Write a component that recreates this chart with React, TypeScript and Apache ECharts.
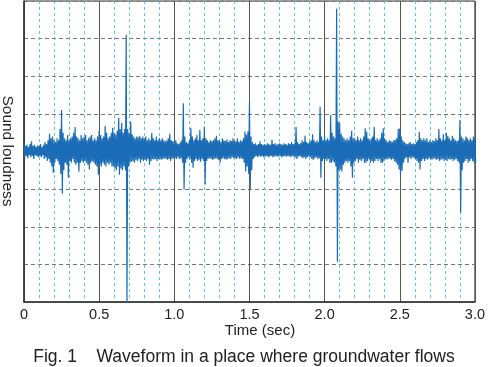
import React, { useEffect, useRef } from "react";
import * as echarts from "echarts";

// Time step of the envelope readings (seconds)
const STEP = 0.01;

// Upper peaks of the waveform, one per 0.01 s from 0.00 to 3.00
const upper: number[] = [
  0.2, 0.15, 0.18, 0.12, 0.2, 0.27, 0.15, 0.18, 0.12, 0.16,
  0.15, 0.2, 0.12, 0.18, 0.25, 0.2, 0.3, 0.47, 0.35, 0.4,
  0.3, 0.25, 0.35, 0.3, 0.6, 1.1, 0.5, 0.35, 0.3, 0.44,
  0.3, 0.35, 0.4, 0.5, 0.65, 0.4, 0.35, 0.3, 0.44, 0.35,
  0.4, 0.44, 0.3, 0.35, 0.4, 0.44, 0.3, 0.35, 0.3, 0.4,
  0.55, 0.44, 0.35, 0.4, 0.68, 0.5, 0.35, 0.4, 0.5, 0.63,
  0.5, 0.45, 0.55, 0.9, 0.6, 0.76, 0.5, 0.6, 3.1, 0.6,
  0.5, 0.8, 0.45, 0.4, 0.35, 0.4, 0.38, 0.42, 0.35, 0.4,
  0.35, 0.4, 0.3, 0.35, 0.3, 0.5, 0.35, 0.3, 0.4, 0.3,
  0.36, 0.3, 0.35, 0.3, 0.27, 0.3, 0.35, 0.47, 0.3, 0.28,
  0.25, 0.3, 0.22, 0.2, 0.25, 0.3, 1.28, 0.4, 0.25, 0.22,
  0.3, 0.63, 0.4, 0.3, 0.35, 0.44, 0.3, 0.57, 0.3, 0.35,
  0.66, 0.35, 0.3, 0.25, 0.3, 0.28, 0.3, 0.35, 0.42, 0.3,
  0.3, 0.25, 0.35, 0.3, 0.28, 0.32, 0.25, 0.3, 0.28, 0.35,
  0.3, 0.27, 0.35, 0.25, 0.3, 0.28, 0.35, 0.53, 0.45, 0.53,
  1.3, 0.4, 0.25, 0.2, 0.22, 0.18, 0.2, 0.27, 0.2, 0.18,
  0.2, 0.18, 0.22, 0.2, 0.18, 0.31, 0.2, 0.22, 0.18, 0.2,
  0.22, 0.2, 0.18, 0.22, 0.2, 0.18, 0.22, 0.2, 0.25, 0.2,
  0.22, 0.65, 0.25, 0.2, 0.22, 0.3, 0.25, 0.42, 0.25, 0.22,
  0.25, 0.3, 0.46, 0.3, 0.25, 0.3, 0.25, 1.19, 0.4, 0.3,
  0.4, 0.3, 0.35, 0.3, 0.97, 0.5, 0.4, 0.35, 3.8, 0.8,
  0.76, 0.47, 0.4, 0.35, 0.3, 0.35, 0.3, 0.4, 0.55, 0.35,
  0.35, 0.3, 0.4, 0.3, 0.35, 0.3, 0.4, 0.62, 0.53, 0.35,
  0.3, 0.35, 0.4, 0.66, 0.3, 0.35, 0.3, 0.35, 0.5, 0.62,
  0.35, 0.3, 0.25, 0.3, 0.28, 0.25, 0.3, 0.31, 0.35, 0.6,
  0.62, 0.4, 0.3, 0.25, 0.22, 0.2, 0.22, 0.25, 0.2, 0.22,
  0.2, 0.25, 0.3, 0.52, 0.35, 0.3, 0.35, 0.3, 0.35, 0.25,
  0.3, 0.25, 0.3, 0.28, 0.35, 0.3, 0.6, 0.35, 0.3, 0.46,
  0.3, 0.5, 0.42, 0.35, 0.3, 0.42, 0.35, 0.3, 0.28, 0.3,
  0.84, 0.4, 0.35, 0.3, 0.4, 0.35, 0.3, 0.35, 0.3, 0.4, 0.35,
];

// Lower peaks of the waveform, one per 0.01 s from 0.00 to 3.00
const lower: number[] = [
  -0.15, -0.12, -0.18, -0.1, -0.15, -0.12, -0.2, -0.1, -0.12, -0.15,
  -0.12, -0.15, -0.1, -0.2, -0.15, -0.25, -0.2, -0.3, -0.4, -0.57,
  -0.3, -0.2, -0.25, -0.35, -0.6, -1.12, -0.5, -0.3, -0.35, -0.7,
  -0.25, -0.3, -0.2, -0.3, -0.35, -0.3, -0.54, -0.3, -0.25, -0.3,
  -0.25, -0.3, -0.35, -0.48, -0.3, -0.25, -0.3, -0.35, -0.4, -0.62,
  -0.35, -0.4, -0.3, -0.35, -0.4, -0.3, -0.35, -0.3, -0.4, -0.4,
  -0.45, -0.5, -0.4, -0.62, -0.45, -0.5, -0.4, -0.5, -4.0, -0.4,
  -0.3, -0.27, -0.25, -0.3, -0.22, -0.25, -0.2, -0.3, -0.22, -0.25,
  -0.22, -0.25, -0.2, -0.35, -0.25, -0.2, -0.22, -0.2, -0.25, -0.2,
  -0.2, -0.22, -0.2, -0.18, -0.2, -0.22, -0.2, -0.25, -0.2, -0.18,
  -0.18, -0.2, -0.15, -0.2, -0.18, -0.3, -1.0, -0.3, -0.2, -0.15,
  -0.2, -0.3, -0.43, -0.25, -0.2, -0.25, -0.22, -0.27, -0.2, -0.25,
  -0.88, -0.25, -0.2, -0.18, -0.2, -0.22, -0.2, -0.18, -0.2, -0.22,
  -0.3, -0.2, -0.18, -0.2, -0.22, -0.2, -0.18, -0.2, -0.15, -0.18,
  -0.18, -0.2, -0.15, -0.2, -0.18, -0.2, -0.3, -0.53, -0.4, -0.6,
  -1.0, -0.5, -0.2, -0.15, -0.12, -0.15, -0.12, -0.14, -0.12, -0.15,
  -0.13, -0.12, -0.15, -0.13, -0.12, -0.15, -0.13, -0.12, -0.14, -0.13,
  -0.12, -0.15, -0.13, -0.12, -0.14, -0.12, -0.13, -0.15, -0.12, -0.14,
  -0.15, -0.2, -0.14, -0.12, -0.15, -0.18, -0.15, -0.2, -0.15, -0.13,
  -0.15, -0.2, -0.22, -0.18, -0.15, -0.2, -0.18, -0.7, -0.25, -0.2,
  -0.2, -0.25, -0.2, -0.3, -0.3, -0.25, -0.3, -0.4, -2.93, -0.5,
  -0.48, -0.53, -0.35, -0.3, -0.25, -0.3, -0.25, -0.4, -0.7, -0.3,
  -0.25, -0.2, -0.3, -0.22, -0.25, -0.2, -0.3, -0.3, -0.25, -0.2,
  -0.3, -0.25, -0.3, -0.25, -0.2, -0.25, -0.2, -0.3, -0.3, -0.25,
  -0.2, -0.22, -0.18, -0.2, -0.22, -0.2, -0.25, -0.3, -0.35, -0.48,
  -0.62, -0.51, -0.3, -0.2, -0.15, -0.3, -0.15, -0.2, -0.15, -0.18,
  -0.2, -0.25, -0.3, -0.48, -0.25, -0.2, -0.25, -0.2, -0.22, -0.18,
  -0.2, -0.22, -0.18, -0.2, -0.22, -0.2, -0.25, -0.22, -0.2, -0.25,
  -0.22, -0.25, -0.2, -0.22, -0.2, -0.25, -0.22, -0.2, -0.25, -0.3,
  -1.63, -0.5, -0.3, -0.25, -0.2, -0.3, -0.25, -0.2, -0.25, -0.3, -0.3,
];

const xTickLabels: string[] = ["0", "0.5", "1.0", "1.5", "2.0", "2.5", "3.0"];
const xAxisName = "Time (sec)";
const yAxisName = "Sound loudness";
const caption = "Fig. 1\u00a0\u00a0\u00a0\u00a0Waveform in a place where groundwater flows";

export default function App() {
  const ref = useRef<HTMLDivElement>(null);

  useEffect(() => {
    if (!ref.current) return;
    const chart = echarts.init(ref.current, null, { renderer: "svg" });

    const data: number[][] = [];
    for (let i = 0; i < upper.length; i++) {
      const t = i * STEP;
      data.push([t, upper[i]]);
      if (i < lower.length) data.push([t + STEP / 2, lower[i]]);
    }

    const minorColors: string[] = [];
    for (let i = 0; i <= 30; i++) {
      minorColors.push(i % 5 === 0 ? "rgba(0,0,0,0)" : "#5cc3ee");
    }

    const font = "Liberation Sans, Arial, Helvetica, sans-serif";

    chart.setOption({
      animation: false,
      grid: {
        left: 24,
        right: 9,
        top: 1,
        bottom: 65,
        show: true,
        borderColor: "#333",
        borderWidth: 1,
        backgroundColor: "#fff",
      },
      xAxis: [
        {
          type: "value",
          position: "top",
          min: 0,
          max: 3,
          interval: 0.1,
          axisLine: { show: false },
          axisTick: { show: false },
          axisLabel: { show: false },
          splitLine: {
            show: true,
            lineStyle: { color: minorColors, type: [3, 3], width: 1 },
          },
        },
        {
          type: "value",
          position: "bottom",
          min: 0,
          max: 3,
          interval: 0.5,
          axisLine: { show: true, lineStyle: { color: "#333", width: 1.5 } },
          axisTick: { show: false },
          axisLabel: {
            fontSize: 14.5,
            color: "#222",
            fontFamily: font,
            margin: 4,
            formatter: (v: number) => xTickLabels[Math.round(v / 0.5)] ?? "",
          },
          splitLine: {
            show: true,
            lineStyle: { color: "#555", type: "solid", width: 1 },
          },
        },
      ],
      yAxis: {
        type: "value",
        min: -4,
        max: 4,
        interval: 1,
        axisLine: { show: true, lineStyle: { color: "#333", width: 1.5 } },
        axisTick: { show: false },
        axisLabel: { show: false },
        splitLine: {
          show: true,
          lineStyle: { color: "#777", type: [4, 3], width: 1 },
        },
      },
      graphic: [
        {
          type: "text",
          x: 8,
          y: 151,
          rotation: -Math.PI / 2,
          style: {
            text: yAxisName,
            fontSize: 15.5,
            fontFamily: font,
            fill: "#222",
            align: "center",
            verticalAlign: "middle",
          },
        },
        {
          type: "text",
          x: 260,
          y: 329,
          style: {
            text: xAxisName,
            fontSize: 15,
            fontFamily: font,
            fill: "#222",
            align: "center",
            verticalAlign: "middle",
          },
        },
        {
          type: "text",
          x: 244,
          y: 356,
          style: {
            text: caption,
            fontSize: 17.5,
            fontFamily: font,
            fill: "#222",
            align: "center",
            verticalAlign: "middle",
          },
        },
      ],
      series: [
        {
          type: "line",
          xAxisIndex: 1,
          data,
          showSymbol: false,
          symbol: "none",
          clip: true,
          lineStyle: { color: "#1a6cb7", width: 1.2 },
          z: 5,
        },
      ],
    });

    return () => chart.dispose();
  }, []);

  return (
    <div
      ref={ref}
      style={{ position: "fixed", left: 0, top: 0, width: 488, height: 367 }}
    />
  );
}
